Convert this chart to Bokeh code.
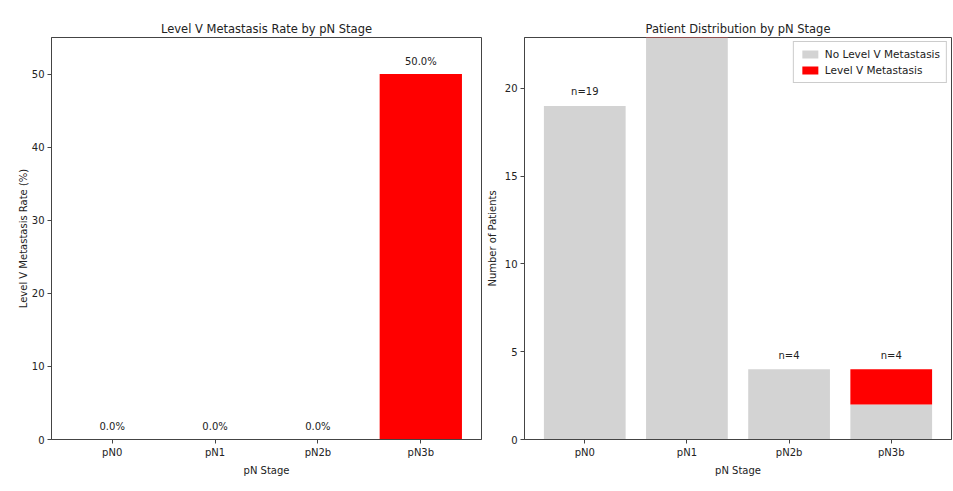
from bokeh.plotting import figure
from bokeh.models import FactorRange, Range1d, ColumnDataSource, LabelSet, Legend, LegendItem, FixedTicker
from bokeh.core.properties import value
from bokeh.layouts import row
from bokeh.embed import file_html
from bokeh.resources import INLINE

stages = ["pN0", "pN1", "pN2b", "pN3b"]
rate_pct = [0.0, 0.0, 0.0, 50.0]
no_meta = [19, 23, 4, 2]
meta = [0, 0, 0, 2]

FONT = "DejaVu Sans"
TXT = "#222222"
AX = "#444444"


def style(p, xlabel, ylabel, yticks, ylab_standoff):
    p.title.align = "center"
    p.title.text_font = FONT
    p.title.text_font_size = "11.5px"
    p.title.text_font_style = "normal"
    p.title.text_color = TXT
    p.title.standoff = 4
    p.xgrid.visible = False
    p.ygrid.visible = False
    p.outline_line_color = AX
    p.outline_line_width = 1
    for ax in (p.xaxis[0], p.yaxis[0]):
        ax.axis_line_color = AX
        ax.major_tick_line_color = AX
        ax.major_tick_out = 4
        ax.major_tick_in = 0
        ax.minor_tick_line_color = None
        ax.major_label_text_font = FONT
        ax.major_label_text_font_size = "10px"
        ax.major_label_text_color = TXT
        ax.axis_label_text_font = FONT
        ax.axis_label_text_font_size = "10px"
        ax.axis_label_text_font_style = "normal"
        ax.axis_label_text_color = TXT
        ax.major_label_standoff = 3
        ax.axis_label_standoff = 4
    p.yaxis.axis_label_standoff = ylab_standoff
    p.xaxis.axis_label = xlabel
    p.yaxis.axis_label = ylabel
    p.yaxis.ticker = FixedTicker(ticks=yticks)


# ---- Left: metastasis rate ----
src1 = ColumnDataSource(dict(
    stage=stages,
    rate=rate_pct,
    lab_y=[r + 1 for r in rate_pct],
    lab=[f"{r:.1f}%" for r in rate_pct],
))
p1 = figure(x_range=FactorRange(*stages, range_padding=0.045),
            y_range=Range1d(0, 55),
            width=483, height=479,
            min_border_left=51, min_border_right=2,
            min_border_top=37, min_border_bottom=40,
            title="Level V Metastasis Rate by pN Stage",
            output_backend="svg", toolbar_location=None)
p1.vbar(x="stage", top="rate", width=0.8, source=src1,
        fill_color="#ff0000", line_color=None)
p1.add_layout(LabelSet(x="stage", y="lab_y", text="lab", source=src1,
                       text_align="center", text_baseline="bottom",
                       text_font=value(FONT), text_font_size="10px", text_color=TXT))
style(p1, "pN Stage", "Level V Metastasis Rate (%)", [0, 10, 20, 30, 40, 50], 0)

# ---- Right: patient distribution ----
totals = [a + b for a, b in zip(no_meta, meta)]
src2 = ColumnDataSource(dict(
    stage=stages,
    no_meta=no_meta,
    meta=meta,
    lab_y=[t + 0.5 for t in totals],
    lab=[f"n={t}" for t in totals],
))
p2 = figure(x_range=FactorRange(*stages, range_padding=0.045),
            y_range=Range1d(0, 22.9),
            width=469, height=479,
            min_border_left=41, min_border_right=1,
            min_border_top=37, min_border_bottom=40,
            title="Patient Distribution by pN Stage",
            output_backend="svg", toolbar_location=None)
rs = p2.vbar_stack(["no_meta", "meta"], x="stage", width=0.8, source=src2,
                   fill_color=["#d3d3d3", "#ff0000"], line_color=None)
p2.add_layout(LabelSet(x="stage", y="lab_y", text="lab", source=src2,
                       text_align="center", text_baseline="bottom",
                       text_font=value(FONT), text_font_size="10px", text_color=TXT))
style(p2, "pN Stage", "Number of Patients", [0, 5, 10, 15, 20], 4)

legend = Legend(items=[LegendItem(label="No Level V Metastasis", renderers=[rs[0]]),
                       LegendItem(label="Level V Metastasis", renderers=[rs[1]])],
                location="top_right")
legend.label_text_font = FONT
legend.label_text_font_size = "10.5px"
legend.label_text_color = TXT
legend.glyph_width = 20
legend.glyph_height = 10
legend.label_height = 11
legend.spacing = 4
legend.padding = 6
legend.margin = 4
legend.border_line_color = "#cccccc"
legend.border_line_alpha = 1
legend.background_fill_alpha = 0.8
p2.add_layout(legend)

layout = row(p1, p2)
open("out.html", "w").write(file_html(layout, INLINE))
